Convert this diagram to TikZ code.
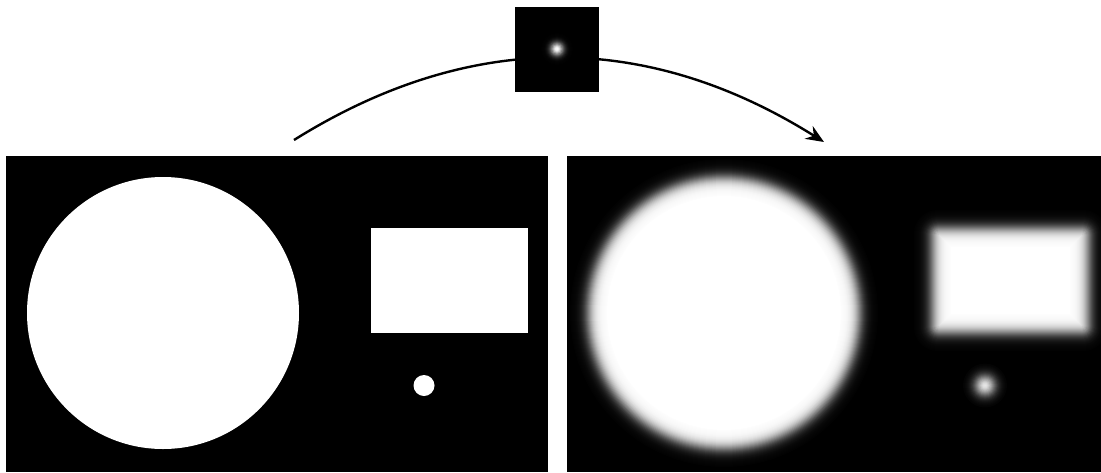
\documentclass[tikz,border=0pt]{standalone}
\usetikzlibrary{arrows.meta}
\tikzset{
  panel/.style={fill=black, draw=none, inner sep=0pt, outer sep=0pt},
  flow/.style={line width=2.4pt, -{Stealth[length=18pt,width=15pt,inset=6pt]}}
}
\begin{document}
\begin{tikzpicture}[x=1pt,y=-1pt]
\useasboundingbox (0,0) rectangle (1101,472);
% panels
\node[panel, minimum width=542pt, minimum height=316pt] (leftimg) at (277,314) {};
\node[panel, minimum width=534pt, minimum height=316pt] (rightimg) at (834,314) {};
% left (sharp) image
\fill[white] (163,313) circle[radius=136];
\fill[white] (371,228) rectangle (528,333);
\fill[white] (424,385.5) circle[radius=10.5];
% right (blurred) image
\foreach \d in {18,17,...,-18} {
  \pgfmathsetmacro\v{100/(1+exp(1.702*\d/6.5))}
  \fill[white!\v!black] (724,313) circle[radius={136+\d}];
}
\fill[white] (724,313) circle[radius=117];
\foreach \d in {18,17,...,-18} {
  \pgfmathsetmacro\v{100/(1+exp(1.702*\d/6.5))}
  \pgfmathsetmacro\rc{max(0.1,7+0.9*\d)}
  \fill[white!\v!black, rounded corners=\rc pt] ({932-\d},{228-\d}) rectangle ({1089+\d},{333+\d});
}
\fill[white] (951,247) rectangle (1070,314);
\foreach \r in {22,21,...,1} {
  \pgfmathsetmacro\v{90*exp(-(\r-0.5)*(\r-0.5)/(2*7.5*7.5))}
  \fill[white!\v!black] (985,385.5) circle[radius=\r];
}
% arrow
\coordinate (arrowstart) at (294,140);
\coordinate (arrowend) at (824,142);
\draw[flow] (arrowstart) .. controls (470,30) and (647,31) .. (arrowend);
% kernel
\node[panel, minimum width=84pt, minimum height=85pt] (kernel) at (557,49.5) {};
\foreach \r in {16,15,...,1} {
  \pgfmathsetmacro\v{100*exp(-(\r-0.5)*(\r-0.5)/(2*4.5*4.5))}
  \fill[white!\v!black] (557,49) circle[radius=\r];
}
\end{tikzpicture}
\end{document}
